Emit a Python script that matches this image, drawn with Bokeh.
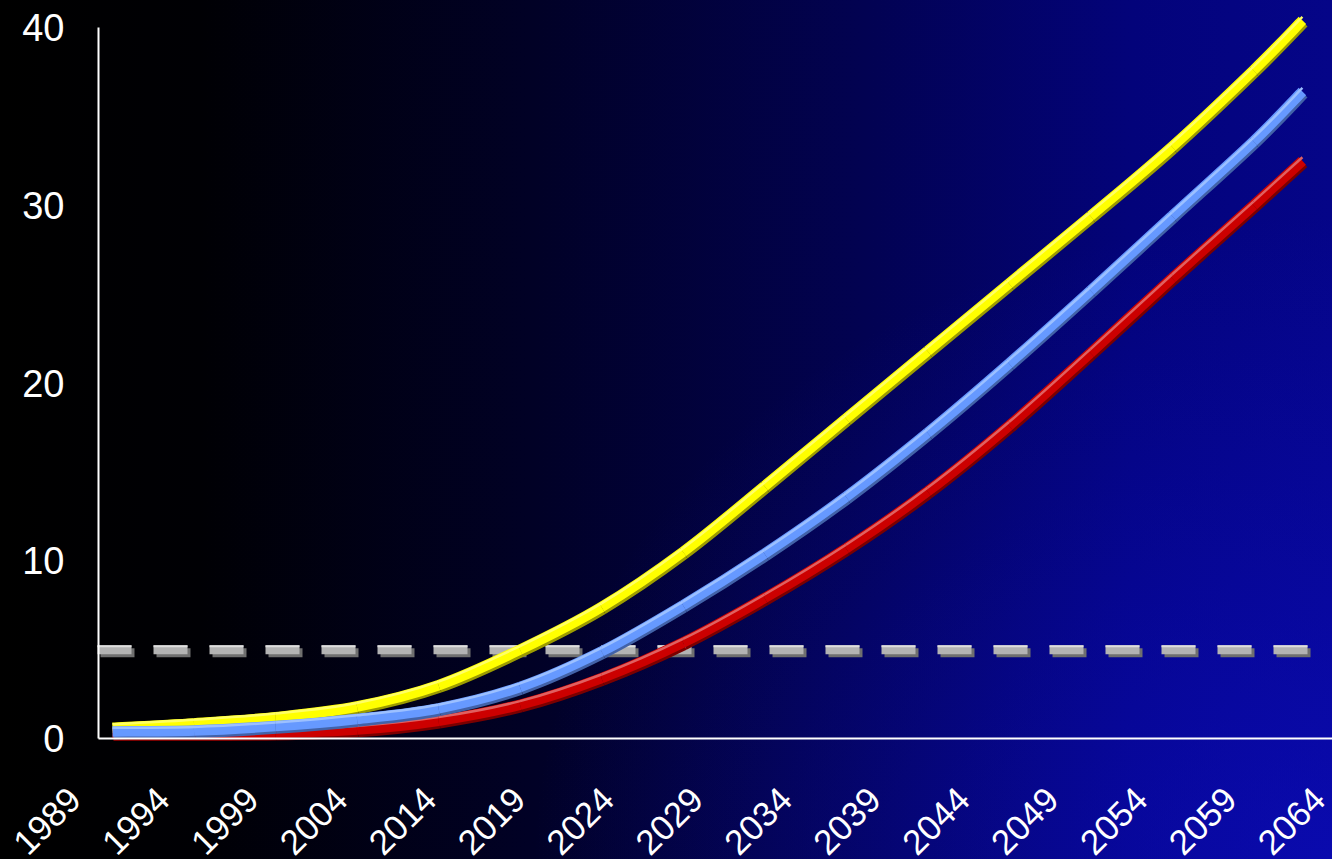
import math
from bokeh.plotting import figure
from bokeh.models import Range1d, LinearAxis, FixedTicker, ColumnDataSource
from bokeh.transform import dodge
from bokeh.embed import file_html
from bokeh.resources import INLINE

# ---- data ----
years = [1990, 1995, 2000, 2005, 2010, 2015, 2020, 2025, 2030, 2035,
         2040, 2045, 2050, 2055, 2060, 2063]
yellow = [0.6, 0.85, 1.2, 1.8, 3.0, 5.0, 7.4, 10.5, 14.2, 18.0,
          21.8, 25.6, 29.4, 33.3, 37.6, 40.4]
blue = [0.4, 0.45, 0.7, 1.1, 1.7, 2.9, 4.9, 7.5, 10.4, 13.6,
        17.2, 21.1, 25.2, 29.4, 33.6, 36.4]
red = [0.3, 0.3, 0.32, 0.5, 1.0, 1.9, 3.4, 5.4, 7.9, 10.7,
       13.9, 17.6, 21.7, 25.9, 30.0, 32.5]
threshold_years = [1989.08, 2063.5]
threshold_values = [5.0, 5.0]
x_labels = ["1989", "1994", "1999", "2004", "2014", "2019", "2024", "2029",
            "2034", "2039", "2044", "2049", "2054", "2059", "2064"]
y_ticks = [0, 10, 20, 30, 40]

# ---- layout (pixels) ----
W, H = 1332, 859
axis_px, zero_px, top_px = 98, 738, 27
px_per_year, year_ref_px = 16.3, 112
px_per_unit = (zero_px - top_px) / 40.0

x0 = 1990 + (0 - year_ref_px) / px_per_year
x1 = 1990 + (W - year_ref_px) / px_per_year
x_axis_at = 1990 + (axis_px - year_ref_px) / px_per_year
y0 = -(H - zero_px) / px_per_unit
y1 = zero_px / px_per_unit
px_x = 1.0 / px_per_year
px_y = 1.0 / px_per_unit

lab_first, lab_step = 74.0, 88.9
lab_start = (0 - lab_first) / lab_step
lab_end = (W - lab_first) / lab_step

bg = ("radial-gradient(ellipse 60% 75% at 100% 100%, rgba(14,14,205,0.55) 0%, rgba(14,14,205,0) 100%),"
      "linear-gradient(to right, #000000 0%, #000004 15%, #010126 40%, #020252 65%, #03037a 85%, #050588 100%)")

p = figure(width=W, height=H, output_backend="svg", toolbar_location=None,
           x_range=Range1d(x0, x1), y_range=Range1d(y0, y1),
           x_axis_location=None, y_axis_location=None,
           min_border=0, min_border_left=0, min_border_right=0,
           min_border_top=0, min_border_bottom=0,
           background_fill_color=None, border_fill_color=None,
           outline_line_color=None, styles={"background": bg})
p.xgrid.visible = False
p.ygrid.visible = False

font = "Liberation Sans"

yaxis = LinearAxis(ticker=FixedTicker(ticks=y_ticks), bounds=(0, 40),
                   fixed_location=x_axis_at,
                   axis_line_color="white", axis_line_width=2,
                   major_tick_line_color=None, minor_tick_line_color=None,
                   major_tick_out=0, major_tick_in=0,
                   major_label_text_color="white",
                   major_label_text_font=font,
                   major_label_text_font_size="38px",
                   major_label_standoff=34)
p.add_layout(yaxis, "left")

# x axis line (years scale)
xline = LinearAxis(ticker=FixedTicker(ticks=[]), bounds=(x_axis_at, x1),
                   fixed_location=0,
                   axis_line_color="white", axis_line_width=2,
                   major_tick_line_color=None, minor_tick_line_color=None,
                   major_label_text_font_size="0px")
p.add_layout(xline, "below")

# x category labels
p.extra_x_ranges = {"lab": Range1d(lab_start, lab_end)}
xaxis = LinearAxis(x_range_name="lab", fixed_location=0,
                   ticker=FixedTicker(ticks=list(range(len(x_labels)))),
                   major_label_overrides={i: s for i, s in enumerate(x_labels)},
                   major_label_orientation=math.pi / 4,
                   axis_line_color=None,
                   major_tick_line_color=None, minor_tick_line_color=None,
                   major_tick_out=0, major_tick_in=0,
                   major_label_text_color="white",
                   major_label_text_font=font,
                   major_label_text_font_size="35px",
                   major_label_standoff=55)
p.add_layout(xaxis, "below")

# threshold dashed line
tsrc = ColumnDataSource(dict(x=threshold_years, y=threshold_values))
dash = "34 22"
p.line(x=dodge("x", 3 * px_x, range=p.x_range), y=dodge("y", -3 * px_y, range=p.y_range),
       source=tsrc, line_color="#6f6f6f", line_width=9, line_dash=dash, line_cap="butt")
p.line(x="x", y="y", source=tsrc, line_color="#b3b3b3", line_width=9,
       line_dash=dash, line_cap="butt")
p.line(x="x", y=dodge("y", 3.5 * px_y, range=p.y_range), source=tsrc,
       line_color="#dedede", line_width=2, line_dash=dash, line_cap="butt")


def smooth_source(xs, ys):
    """Cubic segments through the read points (Catmull-Rom style smoothing)."""
    n = len(xs)
    d = {k: [] for k in ("x0", "y0", "x1", "y1", "cx0", "cy0", "cx1", "cy1")}
    for i in range(n - 1):
        xm, ym = (xs[i - 1], ys[i - 1]) if i > 0 else (xs[i], ys[i])
        xp, yp = (xs[i + 2], ys[i + 2]) if i + 2 < n else (xs[i + 1], ys[i + 1])
        d["x0"].append(xs[i]); d["y0"].append(ys[i])
        d["x1"].append(xs[i + 1]); d["y1"].append(ys[i + 1])
        d["cx0"].append(xs[i] + (xs[i + 1] - xm) / 6.0)
        d["cy0"].append(ys[i] + (ys[i + 1] - ym) / 6.0)
        d["cx1"].append(xs[i + 1] - (xp - xs[i]) / 6.0)
        d["cy1"].append(ys[i + 1] - (yp - ys[i]) / 6.0)
    return ColumnDataSource(d)


def layer(src, dx, dy, color, width):
    kw = {}
    for f in ("x0", "x1", "cx0", "cx1"):
        kw[f] = dodge(f, dx, range=p.x_range) if dx else f
    for f in ("y0", "y1", "cy0", "cy1"):
        kw[f] = dodge(f, dy, range=p.y_range) if dy else f
    p.bezier(source=src, line_color=color, line_width=width, line_cap="butt", **kw)


def series(vals, main, light, dark):
    src = smooth_source(years, vals)
    layer(src, 1.0 * px_x, -2.0 * px_y, dark, 11.5)
    layer(src, 0, 0, main, 10.5)
    layer(src, 0, 3.6 * px_y, light, 2.5)


series(red, "#cc0000", "#e06060", "#7a0000")
series(yellow, "#ffff00", "#ffff66", "#9c9c00")
series(blue, "#6699ff", "#9cc0ff", "#4262a8")

open("out.html", "w").write(file_html(p, INLINE))
